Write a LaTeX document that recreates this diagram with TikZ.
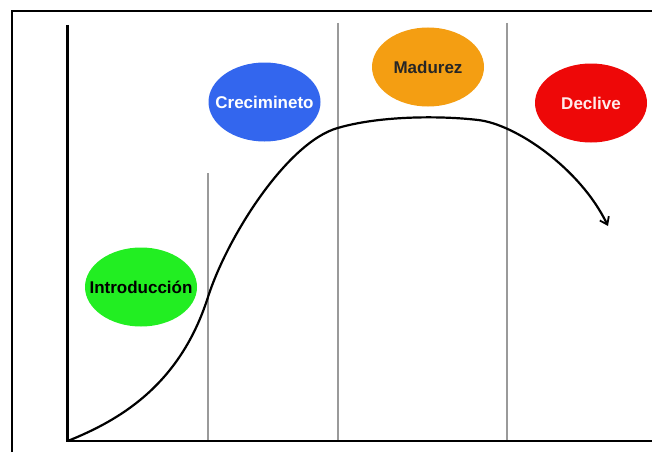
\documentclass[tikz,border=0pt]{standalone}
\usepackage{fontspec}
\setmainfont{Liberation Sans}
\usetikzlibrary{arrows.meta,shapes.geometric}
\definecolor{cgreen}{HTML}{22EE22}
\definecolor{cblue}{HTML}{3366EE}
\definecolor{corange}{HTML}{F49E12}
\definecolor{cred}{HTML}{EE0808}
\definecolor{cgrid}{HTML}{9A9A9A}
\begin{document}
\begin{tikzpicture}[x=1pt,y=-1pt,
  phase/.style={ellipse, minimum width=112pt, minimum height=79pt, inner sep=0pt},
  lbl/.style={font=\fontsize{17}{17}\selectfont\bfseries, inner sep=0pt},
  grid/.style={draw=cgrid, line width=1.2pt},
  axis/.style={line width=2.5pt},
  curve/.style={line width=2.2pt, -{Straight Barb[length=7pt,width=10pt,line width=1.8pt]}}]
\useasboundingbox[fill=white] (0,0) rectangle (652,452);
% frame
\draw[line width=1.4pt] (12,452) -- (12,11) -- (652,11);
% grid lines
\draw[grid] (208,173) -- (208,441);
\draw[grid] (338,23) -- (338,441);
\draw[grid] (507,23) -- (507,441);
% axes
\draw[axis] (67.7,25) -- (67.7,441) -- (652,441);
% phases
\node[phase, fill=cgreen] (intro) at (141,287) {};
\node[phase, fill=cblue] (crec) at (264.5,102) {};
\node[phase, fill=corange] (mad) at (428,67) {};
\node[phase, fill=cred] (dec) at (591,103) {};
\node[lbl, text=black] (introT) at (intro) {Introducción};
\node[lbl, text=white] (crecT) at (crec) {Crecimineto};
\node[lbl, text=black!85] (madT) at (mad) {Madurez};
\node[lbl, text=white!92!red] (decT) at (dec) {Declive};
% curve
\coordinate (c0) at (67.7,441);
\coordinate (c1) at (208,297);
\coordinate (c2) at (337.7,128);
\coordinate (c3) at (478,120);
\coordinate (c4) at (608,226);
\draw[curve] (c0) .. controls (120,420) and (180,385) .. (c1)
  .. controls (228,235) and (288,142) .. (c2)
  .. controls (382,115) and (445,116) .. (c3)
  .. controls (515,124) and (580,168) .. (c4);
\end{tikzpicture}
\end{document}
